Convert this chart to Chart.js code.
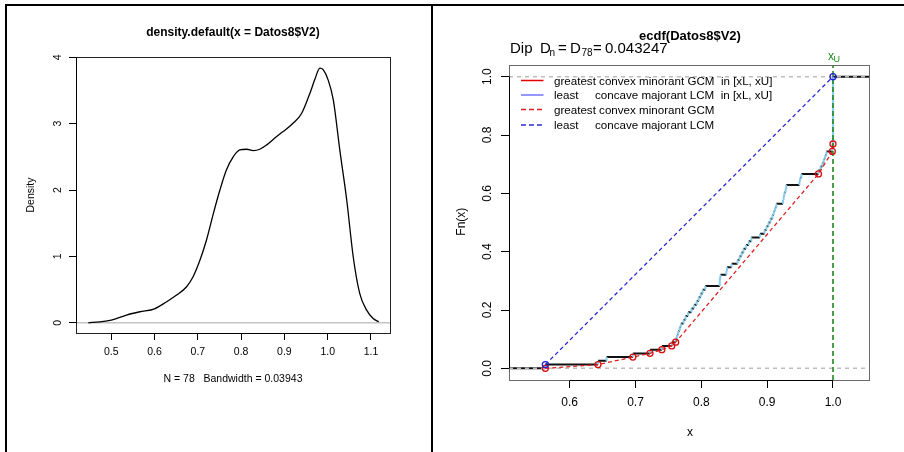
<!DOCTYPE html>
<html><head><meta charset="utf-8">
<script src="https://cdn.jsdelivr.net/npm/chart.js@4/dist/chart.umd.min.js"></script>
<style>
html,body{margin:0;padding:0;background:#fff;}
#wrap{position:relative;width:904px;height:452px;overflow:hidden;background:#fff;}
canvas{position:absolute;top:0;}
.b{position:absolute;background:#000;}
</style></head><body>
<div id="wrap">
<canvas id="c1" width="432" height="452" style="left:0;width:432px;height:452px"></canvas>
<canvas id="c2" width="471" height="452" style="left:433px;width:471px;height:452px"></canvas>
<div class="b" style="left:5px;top:4px;width:2px;height:448px"></div>
<div class="b" style="left:5px;top:4px;width:899px;height:2px"></div>
<div class="b" style="left:431px;top:4px;width:2px;height:448px"></div>
</div>
<script>
// ---------- data ----------
const densX = [0.447,0.474,0.500,0.535,0.566,0.600,0.628,0.651,0.674,0.689,0.705,0.720,0.736,0.751,0.766,0.782,0.797,0.813,0.828,0.843,0.859,0.882,0.897,0.920,0.940,0.959,0.970,0.982,0.990,1.001,1.013,1.028,1.044,1.059,1.074,1.090,1.105,1.118];
const densY = [0.000,0.015,0.040,0.116,0.166,0.210,0.317,0.417,0.543,0.694,0.945,1.247,1.649,2.000,2.300,2.503,2.604,2.614,2.594,2.614,2.680,2.806,2.880,3.006,3.157,3.459,3.660,3.836,3.810,3.660,3.358,2.604,1.850,0.995,0.442,0.191,0.065,0.015];
const leftXTicks = [0.5,0.6,0.7,0.8,0.9,1.0,1.1];
const leftYTicks = [0,1,2,3,4];

const sampleX = [0.563,0.643,0.656,0.696,0.722,0.740,0.755,0.761,
 0.763,0.765,0.767,0.769,0.773,0.776,0.780,0.785,0.789,0.793,0.796,0.799,0.802,0.806,
 0.828,0.828,0.829,0.838,0.839,0.846,
 0.855,0.858,0.861,0.864,0.868,0.872,0.876,
 0.889,
 0.896,0.899,0.902,0.905,0.908,0.910,0.912,0.914,
 0.924,0.925,0.926,0.928,0.929,
 0.949,0.950,0.952,
 0.978,
 0.981,0.984,0.986,0.988,0.990,
 0.999,0.999,
 1,1,1,1,1,1,1,1,1,1,1,1,1,1,1,1,1,1];
const gcmX = [0.563,0.643,0.696,0.722,0.740,0.755,0.761,0.978,0.999,1.000];
const gcmF = [0.000,0.0128,0.0385,0.0513,0.0641,0.0769,0.0897,0.6667,0.7436,0.7692];
const lcmX = [0.563,1.000];
const lcmF = [0.0128,1.000];
const xU = 1.0;
const rightXTicks = [0.6,0.7,0.8,0.9,1.0];
const rightYTicks = [0,0.2,0.4,0.6,0.8,1.0];

const FONT = "'Liberation Sans', Arial, Helvetica, sans-serif";
Chart.defaults.font.family = FONT;
Chart.defaults.color = '#000';

function setTicks(list){ return s => { s.ticks = list.map(v => ({value: v})); }; }
function fixSize(sz){ return s => { if (s.isHorizontal()) s.height = sz; else s.width = sz; }; }
function txt(ctx, s, x, y, size, opt){
  opt = opt || {};
  ctx.save();
  ctx.font = (opt.bold ? 'bold ' : '') + size + 'px ' + FONT;
  ctx.fillStyle = opt.color || '#000';
  ctx.textAlign = opt.align || 'left';
  ctx.textBaseline = opt.base || 'alphabetic';
  ctx.translate(x, y);
  if (opt.rot) ctx.rotate(opt.rot);
  ctx.fillText(s, 0, 0);
  ctx.restore();
}
function axisLines(chart, xt, yt, boxColor){
  const ctx = chart.ctx, a = chart.chartArea, xs = chart.scales.x, ys = chart.scales.y;
  ctx.save();
  ctx.strokeStyle = boxColor; ctx.lineWidth = 1;
  ctx.strokeRect(Math.round(a.left)+0.5, Math.round(a.top)+0.5, Math.round(a.right-a.left), Math.round(a.bottom-a.top));
  ctx.strokeStyle = '#000';
  ctx.beginPath();
  ctx.moveTo(xs.getPixelForValue(xt[0]), Math.round(a.bottom)+0.5);
  ctx.lineTo(xs.getPixelForValue(xt[xt.length-1]), Math.round(a.bottom)+0.5);
  ctx.moveTo(Math.round(a.left)+0.5, ys.getPixelForValue(yt[0]));
  ctx.lineTo(Math.round(a.left)+0.5, ys.getPixelForValue(yt[yt.length-1]));
  ctx.stroke();
  ctx.restore();
}
const tickGrid = len => ({display:true, drawOnChartArea:false, drawTicks:true, tickLength:len, color:'#000', lineWidth:1});

// ---------- left: density ----------
new Chart(document.getElementById('c1'), {
  type: 'scatter',
  data: { datasets: [
    { data: densX.map((x,i)=>({x, y: densY[i]})), showLine:true, borderColor:'#000', borderWidth:1.3,
      pointRadius:0, cubicInterpolationMode:'monotone', order:1 },
    { data: [{x:0.4185,y:0},{x:1.144,y:0}], showLine:true, borderColor:'#c4c4c4', borderWidth:1.5, pointRadius:0, order:2 }
  ]},
  options: {
    responsive:false, animation:false, devicePixelRatio:1,
    layout:{ padding:{left:46, right:42, top:57, bottom:89} },
    plugins:{ legend:{display:false}, tooltip:{enabled:false} },
    scales:{
      x:{ type:'linear', min:0.4185, max:1.144, afterBuildTicks:setTicks(leftXTicks), afterFit:fixSize(30),
          grid:tickGrid(7), border:{display:false},
          ticks:{ font:{size:10.5}, padding:6, maxRotation:0, autoSkip:false, callback:v=>v.toFixed(1) } },
      y:{ type:'linear', min:-0.154, max:4.004, afterBuildTicks:setTicks(leftYTicks), afterFit:fixSize(30),
          grid:tickGrid(7), border:{display:false},
          ticks:{ font:{size:10.5}, padding:8, minRotation:90, maxRotation:90, crossAlign:'center', autoSkip:false, callback:v=>String(v) } }
    }
  },
  plugins:[{ id:'deco1', afterDraw(chart){
    const ctx = chart.ctx;
    axisLines(chart, leftXTicks, leftYTicks, '#222');
    txt(ctx, 'density.default(x = Datos8$V2)', 233, 33, 12, {bold:true, align:'center', base:'middle'});
    txt(ctx, 'Density', 31.5, 195, 10.5, {align:'center', base:'middle', rot:-Math.PI/2});
    txt(ctx, 'N = 78   Bandwidth = 0.03943', 233, 379, 10.5, {align:'center', base:'middle'});
  }}]
});

// ---------- right: ecdf / dip ----------
const n = sampleX.length;
const uniq = [], cnt = [];
sampleX.forEach(v => { if (uniq.length && uniq[uniq.length-1] === v) cnt[cnt.length-1]++; else { uniq.push(v); cnt.push(1); } });
const RXMIN = 0.5078, RXMAX = 1.0547;
const horiz = [], vert = [];
let cum = 0;
horiz.push({x:RXMIN, y:0}, {x:uniq[0], y:0}, {x:uniq[0], y:null});
uniq.forEach((u,i) => {
  const f0 = cum/n; cum += cnt[i]; const f1 = cum/n;
  vert.push({x:u, y:f0}, {x:u, y:f1}, {x:u, y:null});
  const nx = i < uniq.length-1 ? uniq[i+1] : RXMAX;
  horiz.push({x:u, y:f1}, {x:nx, y:f1}, {x:nx, y:null});
});

new Chart(document.getElementById('c2'), {
  type: 'scatter',
  data: { datasets: [
    { data: horiz, showLine:true, spanGaps:false, borderColor:'#111', borderWidth:2, pointRadius:0, order:10 },
    { data: vert, showLine:true, spanGaps:false, borderColor:'#87CEEB', borderWidth:2, pointRadius:0, order:9 },
    { data: [{x:RXMIN,y:0},{x:RXMAX,y:0},{x:RXMAX,y:null},{x:RXMIN,y:1},{x:RXMAX,y:1}], showLine:true, spanGaps:false,
      borderColor:'#bdbdbd', borderWidth:1.5, borderDash:[4,4], pointRadius:0, order:8 },
    { data: lcmX.map((x,i)=>({x, y:lcmF[i]})), showLine:true, borderColor:'#2a2ad8', borderWidth:1.3, borderDash:[4,3], pointRadius:0, order:7 },
    { data: gcmX.map((x,i)=>({x, y:gcmF[i]})), showLine:true, borderColor:'#e02020', borderWidth:1.3, borderDash:[4,3], pointRadius:0, order:6 },
    { data: [{x:xU, y:-0.04},{x:xU, y:1.04}], showLine:true, borderColor:'#1f8b1f', borderWidth:1.6, borderDash:[5,3], pointRadius:0, order:5 },
    { data: gcmX.map((x,i)=>({x, y:gcmF[i]})), showLine:false, pointRadius:3, pointBorderWidth:1.3,
      pointBorderColor:'#d81010', pointBackgroundColor:'rgba(0,0,0,0)', order:4 },
    { data: lcmX.map((x,i)=>({x, y:lcmF[i]})), showLine:false, pointRadius:3, pointBorderWidth:1.3,
      pointBorderColor:'#2020d0', pointBackgroundColor:'rgba(0,0,0,0)', order:3 }
  ]},
  options: {
    responsive:false, animation:false, devicePixelRatio:1,
    layout:{ padding:{left:46, right:35, top:65, bottom:42} },
    plugins:{ legend:{display:false}, tooltip:{enabled:false} },
    scales:{
      x:{ type:'linear', min:RXMIN, max:RXMAX, afterBuildTicks:setTicks(rightXTicks), afterFit:fixSize(30),
          grid:tickGrid(8), border:{display:false},
          ticks:{ font:{size:12}, padding:7, maxRotation:0, autoSkip:false, callback:v=>v.toFixed(1) } },
      y:{ type:'linear', min:-0.04, max:1.04, afterBuildTicks:setTicks(rightYTicks), afterFit:fixSize(30),
          grid:tickGrid(8), border:{display:false},
          ticks:{ font:{size:12}, padding:5, minRotation:90, maxRotation:90, crossAlign:'center', autoSkip:false, callback:v=>v.toFixed(1) } }
    }
  },
  plugins:[{ id:'deco2', afterDraw(chart){
    const ctx = chart.ctx;
    axisLines(chart, rightXTicks, rightYTicks, '#6a6a6a');
    txt(ctx, 'ecdf(Datos8$V2)', 257, 36, 13, {bold:true, align:'center', base:'middle'});
    // Dip statistic
    txt(ctx, 'Dip', 77, 52.5, 15);
    txt(ctx, 'D', 107, 52.5, 15);
    txt(ctx, 'n', 116.5, 55.5, 10);
    txt(ctx, '=', 125, 52.5, 15);
    txt(ctx, 'D', 137, 52.5, 15);
    txt(ctx, '78', 148.5, 55.5, 10);
    txt(ctx, '=', 160, 52.5, 15);
    txt(ctx, '0.043247', 172, 52.5, 15);
    // legend
    const rows = [
      {c:'#e00000', dash:[], a:'greatest convex minorant GCM  in [xL, xU]', b:null},
      {c:'#7373ff', dash:[], a:'least', b:'concave majorant LCM  in [xL, xU]'},
      {c:'#e02020', dash:[5,3], a:'greatest convex minorant GCM', b:null},
      {c:'#2a2ad8', dash:[5,3], a:'least', b:'concave majorant LCM'}
    ];
    const ys = [80.5, 95, 109.5, 125];
    rows.forEach((r,i) => {
      ctx.save(); ctx.strokeStyle = r.c; ctx.lineWidth = 1.5; ctx.setLineDash(r.dash);
      ctx.beginPath(); ctx.moveTo(88, ys[i]); ctx.lineTo(110.5, ys[i]); ctx.stroke(); ctx.restore();
      txt(ctx, r.a, 121, ys[i]+1, 11.6, {base:'middle'});
      if (r.b) txt(ctx, r.b, 162, ys[i]+1, 11.6, {base:'middle'});
    });
    // xU label
    const px = chart.scales.x.getPixelForValue(xU);
    txt(ctx, 'x', px-5, 60, 12, {color:'#1f8b1f'});
    txt(ctx, 'U', px+0.5, 62, 9, {color:'#1f8b1f'});
    txt(ctx, 'Fn(x)', 28.7, 221.7, 12, {align:'center', base:'middle', rot:-Math.PI/2});
    txt(ctx, 'x', 257, 433, 12, {align:'center', base:'middle'});
  }}]
});
</script>
</body></html>
